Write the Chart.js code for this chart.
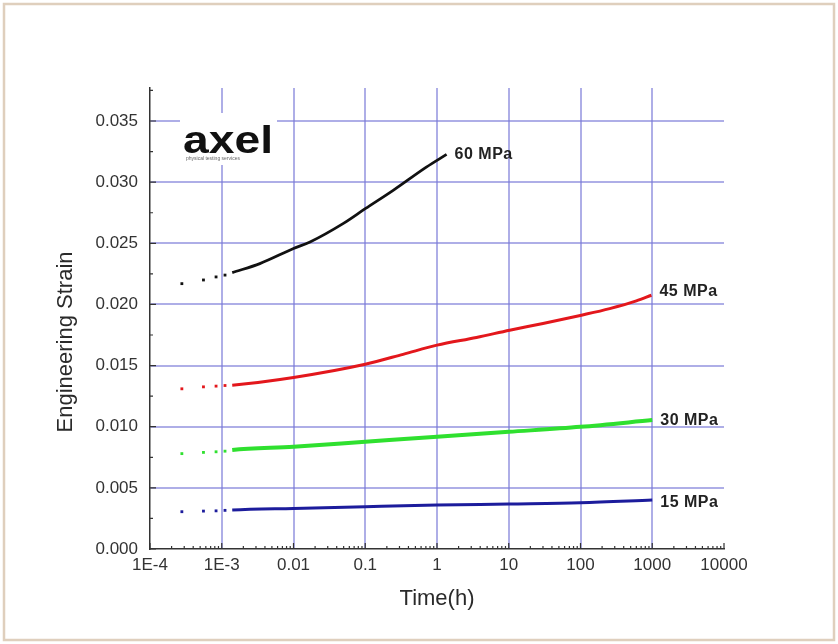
<!DOCTYPE html>
<html>
<head>
<meta charset="utf-8">
<title>Engineering Strain vs Time</title>
<script src="https://cdn.jsdelivr.net/npm/chart.js@4.4.1/dist/chart.umd.min.js"></script>
<style>
    html, body { margin: 0; padding: 0; background: #fff; }
    #chart { display: block; }
</style>
</head>
<body>
<canvas id="chart" width="838" height="644"></canvas>
<script>
// axis ticks
const xTickValues = [1e-4, 1e-3, 0.01, 0.1, 1, 10, 100, 1000, 10000];
const xTickLabels = ['1E-4', '1E-3', '0.01', '0.1', '1', '10', '100', '1000', '10000'];
const yTickValues = [0, 0.005, 0.010, 0.015, 0.020, 0.025, 0.030, 0.035];

// first few readings (1 s, 2 s, 3 s, 4 s) show as separate dots
const dotTimes = [0.000278, 0.000556, 0.000833, 0.00111];

const seriesNames = ['60 MPa', '45 MPa', '30 MPa', '15 MPa'];

const dots60 = [0.0217, 0.0220, 0.02225, 0.0224];
const time60 = [0.0014, 0.0034, 0.01, 0.017, 0.049, 0.1, 0.245, 0.71, 1.36];
const strain60 = [0.0226, 0.02334, 0.02457, 0.02511, 0.02661, 0.02783, 0.02933, 0.03123, 0.03227];

const dots45 = [0.0131, 0.01326, 0.01332, 0.01337];
const time45 = [0.0014, 0.01, 0.1, 0.337, 1, 3.55, 10.3, 30, 103, 255, 601, 973];
const strain45 = [0.0134, 0.01403, 0.01511, 0.01592, 0.01667, 0.0173, 0.01789, 0.01844, 0.01912, 0.01966, 0.02029, 0.02075];

const dots30 = [0.0078, 0.0079, 0.00795, 0.0080];
const time30 = [0.0014, 0.01, 0.1, 1, 10, 100, 1000];
const strain30 = [0.00809, 0.00836, 0.00877, 0.00918, 0.00958, 0.00999, 0.01054];

const dots15 = [0.00305, 0.0031, 0.00312, 0.00316];
const time15 = [0.0014, 0.01, 0.1, 1, 10, 100, 1000];
const strain15 = [0.00319, 0.00332, 0.00346, 0.00359, 0.00368, 0.00378, 0.0040];

const FONT = "'Liberation Sans', Arial, Helvetica, sans-serif";
const colors = ['#111111', '#e3171c', '#2fe02f', '#1c1c9c'];
const widths = [2.8, 3, 4, 3];
const labelDy = [0, -4, 0, 3];

function buildData(dots, times, strains) {
    const pts = dots.map((v, i) => ({x: dotTimes[i], y: v}));
    return pts.concat(times.map((t, i) => ({x: t, y: strains[i]})));
}

const allData = [
    buildData(dots60, time60, strain60),
    buildData(dots45, time45, strain45),
    buildData(dots30, time30, strain30),
    buildData(dots15, time15, strain15),
];

const nDots = dotTimes.length;

const datasets = allData.map((d, i) => ({
    label: seriesNames[i],
    data: d,
    borderColor: colors[i],
    backgroundColor: colors[i],
    borderWidth: widths[i],
    cubicInterpolationMode: 'monotone',
    pointStyle: 'rect',
    pointBorderWidth: 0,
    pointRadius: ctx => ctx.dataIndex < nDots ? 2 : 0,
    pointHoverRadius: 0,
    segment: {
        borderColor: ctx => ctx.p0DataIndex < nDots ? 'transparent' : undefined
    }
}));

// frame, logo, axis titles, series labels
const decor = {
    id: 'decor',
    beforeDraw(chart) {
        const ctx = chart.ctx;
        ctx.save();
        ctx.fillStyle = '#fff';
        ctx.fillRect(0, 0, chart.width, chart.height);
        ctx.strokeStyle = '#dfcfbd';
        ctx.lineWidth = 2.5;
        ctx.strokeRect(4, 4, 830, 636);
        ctx.restore();
    },
    beforeDatasetsDraw(chart) {
        const ctx = chart.ctx;
        ctx.save();
        ctx.fillStyle = '#fff';
        ctx.fillRect(180, 113, 97, 52);
        // logo
        ctx.fillStyle = '#111';
        ctx.textBaseline = 'alphabetic';
        ctx.font = 'bold 38px ' + FONT;
        const w = ctx.measureText('axel').width;
        ctx.translate(183, 153);
        ctx.scale(90 / w, 1);
        ctx.fillText('axel', 0, 0);
        ctx.restore();
        ctx.save();
        ctx.fillStyle = '#666';
        ctx.font = '5px ' + FONT;
        ctx.fillText('physical testing services', 186, 160);
        ctx.restore();
    },
    afterDraw(chart) {
        const ctx = chart.ctx;
        ctx.save();
        ctx.fillStyle = '#2a2a2a';
        ctx.textAlign = 'center';
        ctx.textBaseline = 'middle';
        ctx.font = '22px ' + FONT;
        ctx.fillText('Time(h)', 437, 599);
        ctx.translate(66, 342);
        ctx.rotate(-Math.PI / 2);
        ctx.fillText('Engineering Strain', 0, 0);
        ctx.restore();

        ctx.save();
        ctx.fillStyle = '#222';
        ctx.font = 'bold 16px ' + FONT;
        ctx.letterSpacing = '0.5px';
        ctx.textBaseline = 'middle';
        chart.data.datasets.forEach((ds, i) => {
            const meta = chart.getDatasetMeta(i);
            const last = meta.data[meta.data.length - 1];
            ctx.fillText(ds.label, last.x + 8, last.y + labelDy[i]);
        });
        ctx.restore();
    }
};

// inward major/minor ticks on both axes
const innerTicks = {
    id: 'innerTicks',
    afterDraw(chart) {
        const {ctx, chartArea: a, scales: {x, y}} = chart;
        ctx.save();
        ctx.strokeStyle = '#333';
        ctx.lineWidth = 1.2;
        ctx.beginPath();
        xTickValues.forEach((v, i) => {
            const px = x.getPixelForValue(v);
            ctx.moveTo(px, a.bottom);
            ctx.lineTo(px, a.bottom - 6);
            if (i < xTickValues.length - 1) {
                for (let m = 2; m < 10; m++) {
                    const p = x.getPixelForValue(v * m);
                    ctx.moveTo(p, a.bottom);
                    ctx.lineTo(p, a.bottom - 3);
                }
            }
        });
        yTickValues.forEach(v => {
            const py = y.getPixelForValue(v);
            ctx.moveTo(a.left, py);
            ctx.lineTo(a.left + 6, py);
            const pm = y.getPixelForValue(v + 0.0025);
            ctx.moveTo(a.left, pm);
            ctx.lineTo(a.left + 3, pm);
        });
        ctx.stroke();
        ctx.restore();
    }
};

new Chart(document.getElementById('chart'), {
    type: 'line',
    data: {datasets},
    plugins: [decor, innerTicks],
    options: {
        responsive: false,
        animation: false,
        devicePixelRatio: 1,
        layout: {padding: {left: 0, top: 88, right: 114, bottom: 0}},
        plugins: {legend: {display: false}, tooltip: {enabled: false}},
        scales: {
            x: {
                type: 'logarithmic',
                min: 1e-4,
                max: 1e4,
                afterBuildTicks: s => { s.ticks = xTickValues.map(v => ({value: v})); },
                afterFit: s => { s.height = 95; },
                grid: {
                    color: ctx => (ctx.tick && (ctx.tick.value === 1e-4 || ctx.tick.value === 1e4)) ? 'transparent' : 'rgba(120,120,215,0.6)',
                    lineWidth: 2,
                    drawTicks: false
                },
                border: {color: '#333', width: 1.5},
                ticks: {
                    autoSkip: false,
                    maxRotation: 0,
                    padding: 6,
                    color: '#333',
                    font: {family: FONT, size: 17},
                    callback: (v, i) => xTickLabels[i]
                }
            },
            y: {
                type: 'linear',
                min: 0,
                max: 0.0377,
                afterBuildTicks: s => { s.ticks = yTickValues.map(v => ({value: v})); },
                afterFit: s => { s.width = 150; },
                grid: {
                    color: ctx => (ctx.tick && ctx.tick.value === 0) ? 'transparent' : 'rgba(120,120,215,0.6)',
                    lineWidth: 2,
                    drawTicks: false
                },
                border: {color: '#333', width: 1.5},
                ticks: {
                    padding: 12,
                    color: '#333',
                    font: {family: FONT, size: 17},
                    callback: v => v.toFixed(3)
                }
            }
        }
    }
});
</script>
</body>
</html>
